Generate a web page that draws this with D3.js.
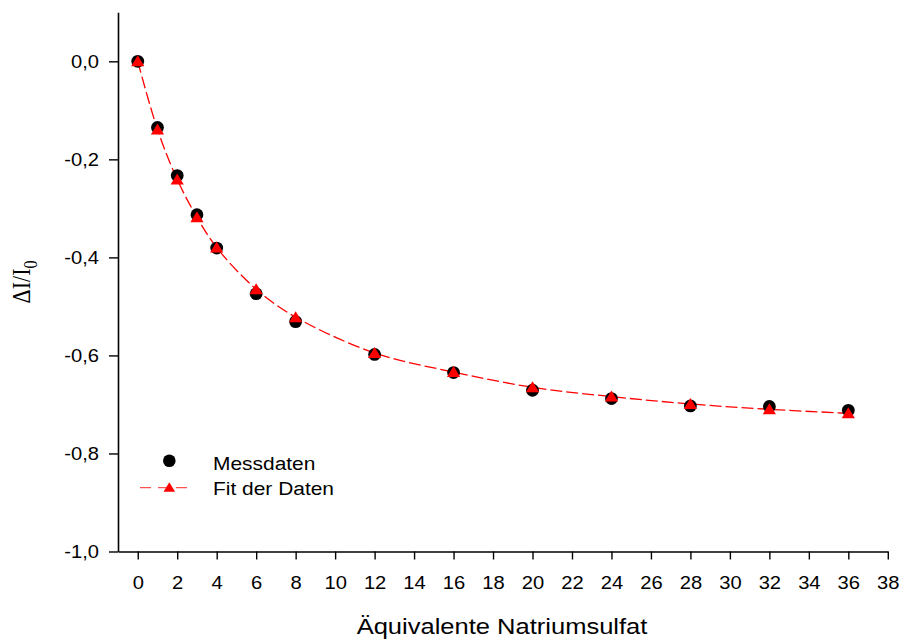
<!DOCTYPE html>
<html>
<head>
<meta charset="utf-8">
<script src="https://cdn.jsdelivr.net/npm/d3@7"></script>
<style>
  html, body { margin: 0; padding: 0; background: #ffffff; }
  svg { display: block; }
</style>
</head>
<body>
<svg id="chart" width="902" height="639"></svg>
<script>
// Concentration steps (Äquivalente Natriumsulfat)
const concentration = [0, 1, 2, 3, 4, 6, 8, 12, 16, 20, 24, 28, 32, 36];
// Measured relative intensity change ΔI/I0
const measured = [0, -0.135, -0.233, -0.313, -0.381, -0.474, -0.531, -0.598, -0.635, -0.671, -0.688, -0.703, -0.704, -0.712];
// Fitted values at the same concentrations
const fitted = [0, -0.139, -0.241, -0.318, -0.380, -0.465, -0.522, -0.595, -0.634, -0.665, -0.684, -0.699, -0.710, -0.718];
// Axis ticks
const xTicks = d3.range(0, 39, 2);
const yTicks = [0, -0.2, -0.4, -0.6, -0.8, -1.0];
const seriesNames = ["Messdaten", "Fit der Daten"];

const svg = d3.select("#chart");
const font = "'Liberation Sans', Arial, sans-serif";
// the lettering is set slightly wide
const widen = 1.12;

const x = d3.scaleLinear().domain([-1, 38]).range([118, 887.8]);
const y = d3.scaleLinear().domain([-1.0, 0.1]).range([551.5, 12.3]);

const fmt = v => (Math.abs(v) < 1e-9 ? "0,0" : d3.format(".1f")(v).replace("−", "-").replace(".", ","));

// Axes
const xAxis = svg.append("g")
  .attr("transform", `translate(0,${y(-1.0)})`)
  .call(d3.axisBottom(x).tickValues(xTicks).tickSize(8).tickSizeOuter(0).tickPadding(16.5).tickFormat(d => d));
const yAxis = svg.append("g")
  .attr("transform", `translate(${x(-1)},0)`)
  .call(d3.axisLeft(y).tickValues(yTicks).tickSize(9).tickSizeOuter(0).tickPadding(10).tickFormat(fmt));

[xAxis, yAxis].forEach(g => {
  g.selectAll("path.domain").attr("stroke", "#000").attr("stroke-width", 1.6);
  g.selectAll(".tick line").attr("stroke", "#000").attr("stroke-width", 1.4);
  g.selectAll(".tick text").attr("fill", "#000").style("font-family", font).style("font-size", "18px")
    .attr("transform", `scale(${widen},1)`);
});
yAxis.selectAll(".tick text").attr("x", -19 / widen);

// Axis titles
svg.append("text")
  .attr("transform", `translate(502,634) scale(${widen},1)`)
  .attr("text-anchor", "middle")
  .style("font-family", font).style("font-size", "22.8px").attr("fill", "#000")
  .text("Äquivalente Natriumsulfat");

const yTitle = svg.append("text")
  .attr("transform", `translate(30,282) rotate(-90) scale(1,${widen})`)
  .attr("text-anchor", "middle")
  .style("font-family", "'Liberation Serif', 'Times New Roman', serif").style("font-size", "22px").attr("fill", "#000");
yTitle.append("tspan").text("ΔI/I");
yTitle.append("tspan").attr("dy", 6).style("font-size", "16px").text("0");

// Fit curve
const line = d3.line()
  .x((d, i) => x(concentration[i]))
  .y(d => y(d))
  .curve(d3.curveCatmullRom.alpha(0.5));

svg.append("path")
  .datum(fitted)
  .attr("d", line)
  .attr("fill", "none")
  .attr("stroke", "#ff0000")
  .attr("stroke-width", 1.3)
  .attr("stroke-dasharray", "12,4");

const triPath = (cx, cy, hw, up, down) => `M${cx},${cy - up}L${cx + hw},${cy + down}L${cx - hw},${cy + down}Z`;

// Measured points
svg.append("g").selectAll("circle")
  .data(measured)
  .join("circle")
  .attr("cx", (d, i) => x(concentration[i]))
  .attr("cy", d => y(d))
  .attr("r", 6.4)
  .attr("fill", "#000");

// Fitted points
svg.append("g").selectAll("path")
  .data(fitted)
  .join("path")
  .attr("d", (d, i) => triPath(x(concentration[i]), y(d), 6.6, 6, 5))
  .attr("fill", "#ff0000");

// Legend
const legend = svg.append("g");
legend.append("circle").attr("cx", 169.3).attr("cy", 460.7).attr("r", 6.3).attr("fill", "#000");
legend.append("line").attr("x1", 140).attr("x2", 194).attr("y1", 487.7).attr("y2", 487.7)
  .attr("stroke", "#ff5050").attr("stroke-width", 1.2).attr("stroke-dasharray", "11,7");
legend.append("path").attr("d", triPath(169.3, 487.5, 5.8, 5.2, 4.2)).attr("fill", "#ff0000");
legend.selectAll("text")
  .data(seriesNames)
  .join("text")
  .attr("transform", (d, i) => `translate(213,${470 + i * 24.5}) scale(${widen},1)`)
  .style("font-family", font).style("font-size", "18.7px").attr("fill", "#000")
  .text(d => d);
</script>
</body>
</html>
